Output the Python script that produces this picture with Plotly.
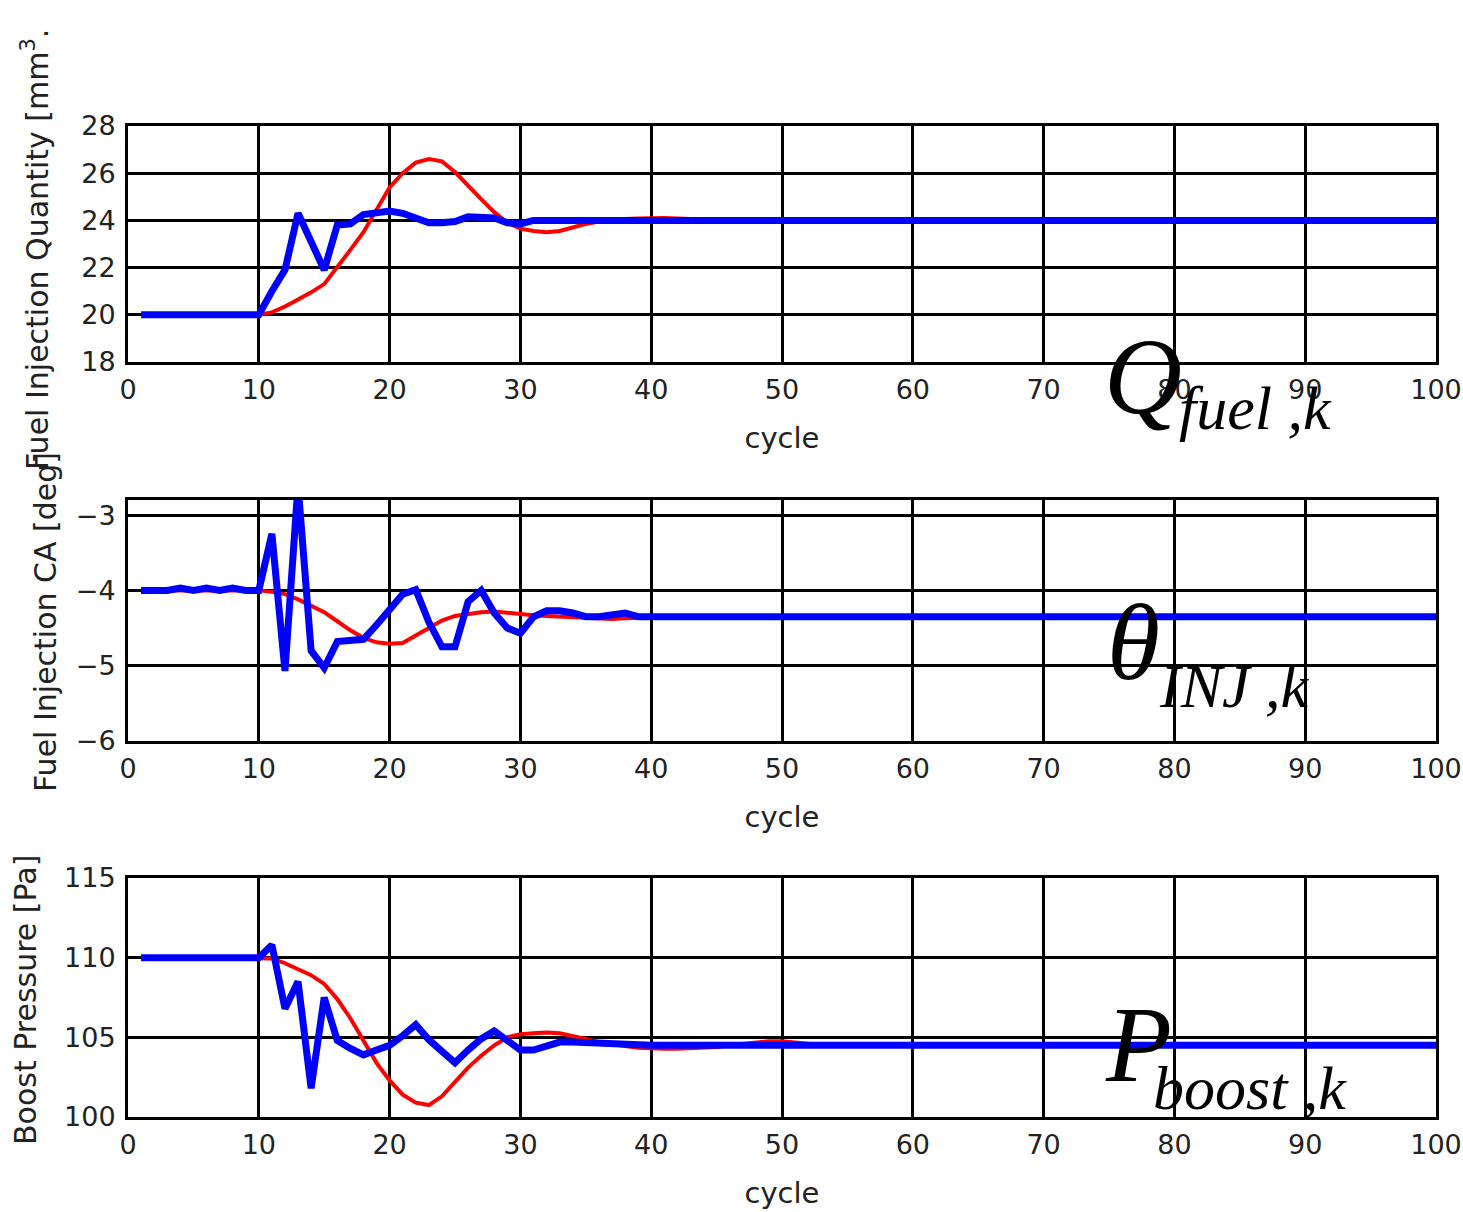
import plotly.graph_objects as go

W, H = 1463, 1212

cycles = list(range(1, 101))
x_ticks = [0, 10, 20, 30, 40, 50, 60, 70, 80, 90, 100]

# Panel 1: fuel injection quantity
q_red = [20.0] * 10 + [
    20.1, 20.35, 20.65, 20.95, 21.3, 22.0, 22.75, 23.5, 24.45, 25.4,
    26.0, 26.45, 26.6, 26.5, 26.05, 25.45, 24.9, 24.35, 23.9, 23.65,
    23.55, 23.5, 23.55, 23.7, 23.85, 23.95, 24.02, 24.06, 24.08, 24.1,
    24.1, 24.08, 24.05, 24.02, 24.0, 23.98, 23.97, 23.96, 23.96, 23.96,
    23.97, 23.98] + [24.0] * 48
q_blue = [20.0] * 10 + [
    21.0, 21.9, 24.3, 23.1, 21.9, 23.8, 23.85, 24.25, 24.3, 24.4,
    24.3, 24.1, 23.9, 23.9, 23.95, 24.15, 24.15, 24.1, 23.9, 23.85,
    24.0] + [24.0] * 69
q_ticks = [18, 20, 22, 24, 26, 28]

# Panel 2: fuel injection crank angle
t_red = [-4.0] * 10 + [
    -4.02, -4.05, -4.12, -4.2, -4.29, -4.41, -4.53, -4.63, -4.69, -4.71,
    -4.7, -4.6, -4.5, -4.4, -4.34, -4.31, -4.29, -4.28, -4.3, -4.32,
    -4.33, -4.34, -4.35, -4.36, -4.37, -4.38, -4.38, -4.37, -4.36] + [-4.35] * 61
t_blue = [-4.0, -4.0, -4.0, -3.97, -4.0, -3.97, -4.0, -3.97, -4.0, -4.0,
          -3.25, -5.07, -2.6, -4.8, -5.03, -4.68, -4.67, -4.65, -4.46, -4.25,
          -4.05, -3.99, -4.42, -4.75, -4.75, -4.15, -4.0, -4.3, -4.5, -4.57,
          -4.35, -4.27, -4.27, -4.3, -4.35, -4.35, -4.33, -4.3, -4.35, -4.35] + [-4.35] * 60
t_ticks = [-6, -5, -4, -3]

# Panel 3: boost pressure
p_red = [110.0] * 10 + [
    109.95, 109.65, 109.3, 108.9, 108.35, 107.4, 106.2, 104.8, 103.4, 102.3,
    101.4, 100.9, 100.75, 101.3, 102.2, 103.1, 103.85, 104.5, 105.0, 105.2,
    105.25, 105.3, 105.25, 105.1, 104.9, 104.7, 104.55, 104.45, 104.35, 104.3,
    104.28, 104.28, 104.3, 104.35, 104.4, 104.5, 104.6, 104.7, 104.75, 104.75,
    104.7, 104.6] + [104.5] * 48
p_blue = [110.0] * 10 + [
    110.8, 106.8, 108.5, 101.8, 107.5, 104.8, 104.3, 103.9, 104.2, 104.5,
    105.1, 105.8, 104.85, 104.05, 103.4, 104.2, 104.9, 105.4, 104.75, 104.2,
    104.2, 104.45, 104.7, 104.7, 104.65, 104.6, 104.55, 104.5] + [104.5] * 62
p_ticks = [100, 105, 110, 115]

panels = [
    dict(red=q_red, blue=q_blue, rng=[18, 28], ticks=q_ticks, top=126, bot=362),
    dict(red=t_red, blue=t_blue, rng=[-6, -2.8], ticks=t_ticks, top=500, bot=741),
    dict(red=p_red, blue=p_blue, rng=[100, 115], ticks=p_ticks, top=878, bot=1117),
]

def px(x):
    return x / W

def py(y):
    return 1 - y / H

fig = go.Figure()
FONT = "DejaVu Sans"
tick_font = dict(family=FONT, size=27, color="#222222")

for i, p in enumerate(panels, start=1):
    sfx = "" if i == 1 else str(i)
    fig.add_trace(go.Scatter(x=cycles, y=p["red"], mode="lines",
                             line=dict(color="#ff0000", width=4),
                             xaxis="x" + sfx, yaxis="y" + sfx, showlegend=False))
    fig.add_trace(go.Scatter(x=cycles, y=p["blue"], mode="lines",
                             line=dict(color="#0000ff", width=7),
                             xaxis="x" + sfx, yaxis="y" + sfx, showlegend=False))
    fig.layout["xaxis" + sfx] = dict(
        domain=[px(128), px(1436)], range=[0, 100], anchor="y" + sfx,
        tickvals=x_ticks, showgrid=True, gridcolor="black", gridwidth=2.5,
        showline=True, linecolor="black", linewidth=3, mirror=True,
        ticks="inside", ticklen=6, tickcolor="black", tickwidth=2,
        zeroline=False, tickfont=tick_font, ticklabelstandoff=2,
        automargin=False,
        title=dict(text="cycle", font=dict(family=FONT, size=29, color="#222222"),
                   standoff=24),
    )
    fig.layout["yaxis" + sfx] = dict(
        domain=[py(p["bot"]), py(p["top"])], range=p["rng"], anchor="x" + sfx,
        tickvals=p["ticks"], showgrid=True, gridcolor="black", gridwidth=2.5,
        showline=True, linecolor="black", linewidth=3, mirror=True,
        ticks="inside", ticklen=6, tickcolor="black", tickwidth=2,
        zeroline=False, tickfont=tick_font, ticklabelstandoff=4,
        automargin=False,
    )

ytitles = [
    ("Fuel Injection Quantity [mm<sup>3</sup>.", 35, 250),
    ("Fuel Injection CA [deg]", 45, 622),
    ("Boost Pressure [Pa]", 25, 1000),
]
annotations = []
for text, x, y in ytitles:
    annotations.append(dict(text=text, x=px(x), y=py(y), xref="paper", yref="paper",
                            xanchor="center", yanchor="middle", textangle=-90,
                            showarrow=False,
                            font=dict(family=FONT, size=30, color="#222222")))

math_labels = [
    ("Q", 1143, 376, "fuel ,k", 1255, 408),
    ("\u03b8", 1133, 642, "INJ ,k", 1234, 686),
    ("P", 1138, 1044, "boost ,k", 1250, 1088),
]
for main, mx, my, sub, sx, sy in math_labels:
    annotations.append(dict(text="<i>" + main + "</i>", x=px(mx), y=py(my),
                            xref="paper", yref="paper", xanchor="center", yanchor="middle",
                            showarrow=False,
                            font=dict(family="Liberation Serif", size=108, color="black")))
    annotations.append(dict(text="<i>" + sub + "</i>", x=px(sx), y=py(sy),
                            xref="paper", yref="paper", xanchor="center", yanchor="middle",
                            showarrow=False,
                            font=dict(family="Liberation Serif", size=62, color="black")))

fig.update_layout(width=W, height=H, margin=dict(l=0, r=0, t=0, b=0),
                  paper_bgcolor="white", plot_bgcolor="white",
                  annotations=annotations)

fig.write_html("out.html", config={"displayModeBar": False},
               post_script="document.body.style.margin='0';document.body.style.overflow='hidden';")
